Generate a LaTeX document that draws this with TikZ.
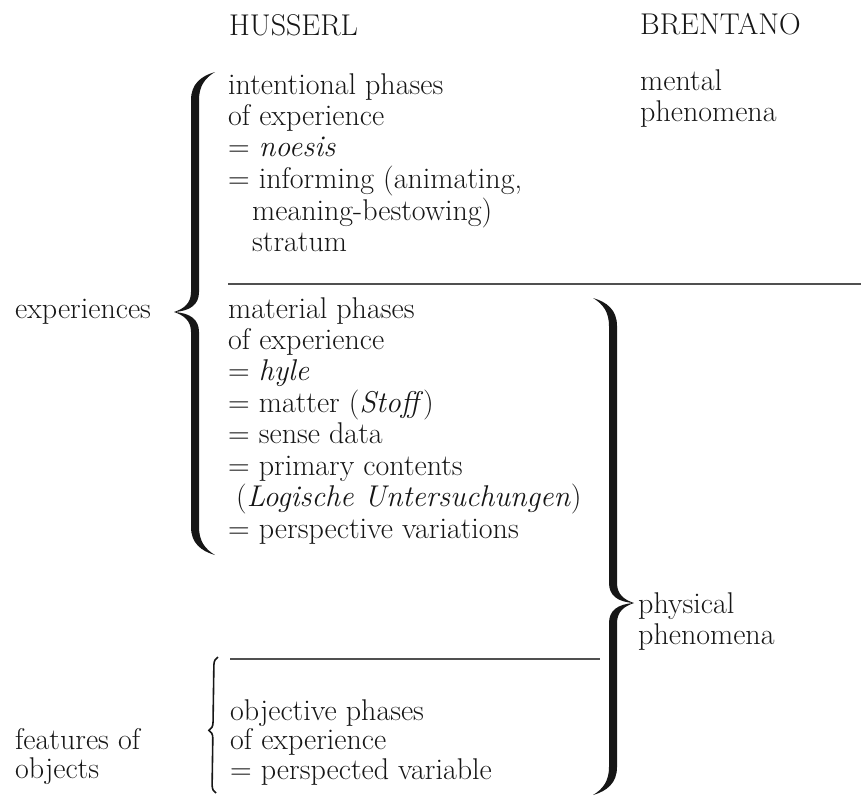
\documentclass[tikz,border=0pt]{standalone}
\usepackage{tikz}
\usetikzlibrary{decorations.pathreplacing}

\definecolor{ink}{RGB}{22,22,22}
\definecolor{rulegray}{RGB}{80,80,80}

\newcommand{\lines}[1]{\begin{tabular}[t]{@{}l@{}}#1\end{tabular}}
\newcommand{\curlybrace}[5]{%
    \fill[bracefill] ({#1+#5*20},#2) .. controls ({#1+#5*6},{#2+4}) and ({#1-#5*4},{#2+12}) .. ({#1-#5*4},{#2+28})
        -- ({#1-#5*4},{#3-20}) .. controls ({#1-#5*4},{#3-8}) and ({#1-#5*12},{#3-3}) .. ({#1-#5*21},#3)
        .. controls ({#1-#5*12},{#3+3}) and ({#1-#5*4},{#3+8}) .. ({#1-#5*4},{#3+20})
        -- ({#1-#5*4},{#4-28}) .. controls ({#1-#5*4},{#4-12}) and ({#1+#5*6},{#4-4}) .. ({#1+#5*20},#4)
        .. controls ({#1+#5*10},{#4-6}) and ({#1+#5*4},{#4-14}) .. ({#1+#5*4},{#4-28})
        -- ({#1+#5*4},{#3+20}) .. controls ({#1+#5*4},{#3+8}) and ({#1-#5*4},{#3+1}) .. ({#1-#5*21},#3)
        .. controls ({#1-#5*4},{#3-1}) and ({#1+#5*4},{#3-8}) .. ({#1+#5*4},{#3-20})
        -- ({#1+#5*4},{#2+28}) .. controls ({#1+#5*4},{#2+14}) and ({#1+#5*10},{#2+6}) .. ({#1+#5*20},#2) -- cycle;}

\begin{document}
\begin{tikzpicture}[x=1pt,y=-1pt,
    txt/.style={anchor=base west,inner sep=0pt,text=ink,font=\fontsize{30}{31.3}\selectfont},
    tight/.style={txt,font=\fontsize{30}{28.6}\selectfont},
    rule/.style={draw=rulegray,line width=1.3pt},
    bracefill/.style={fill=ink},
    thinbrace/.style={draw=ink,line width=1.6pt,decorate,decoration={brace,amplitude=8pt,aspect=0.46}}]
    \useasboundingbox (0,0) rectangle (861,796);

    \node[txt] (husserl) at (229,35) {HUSSERL};
    \node[txt] (brentano) at (640,34) {BRENTANO};

    \node[txt] (intentional) at (228,94) {\lines{intentional phases\\ of experience\\ = \textit{noesis}\\ = informing (animating,\\ \hspace*{24pt}meaning-bestowing)\\ \hspace*{24pt}stratum}};
    \node[txt] (mental) at (640,90) {\lines{mental\\ phenomena}};

    \node[txt] (experiences) at (15,318) {experiences};
    \node[txt] (material) at (228,318) {\lines{material phases\\ of experience\\ = \textit{hyle}\\ = matter (\textit{Stoff\/})\\ = sense data\\ = primary contents\\ \hspace*{8pt}(\textit{Logische Untersuchungen})\\ = perspective variations}};
    \node[txt] (physical) at (638,613) {\lines{physical\\ phenomena}};

    \node[tight] (features) at (15,749) {\lines{features of\\ objects}};
    \node[tight] (objective) at (230,720) {\lines{objective phases\\ of experience\\ = perspected variable}};

    \coordinate (rule1w) at (228,284);
    \coordinate (rule1e) at (861,284);
    \coordinate (rule2w) at (230,659);
    \coordinate (rule2e) at (600,659);
    \draw[rule] (rule1w) -- (rule1e);
    \draw[rule] (rule2w) -- (rule2e);

    \curlybrace{195}{72}{312}{555}{1}
    \curlybrace{613}{298}{603}{795}{(-1)}

    \coordinate (smallbot) at (216,793);
    \coordinate (smalltop) at (218,657);
    \draw[thinbrace] (smallbot) -- (smalltop);
\end{tikzpicture}
\end{document}
